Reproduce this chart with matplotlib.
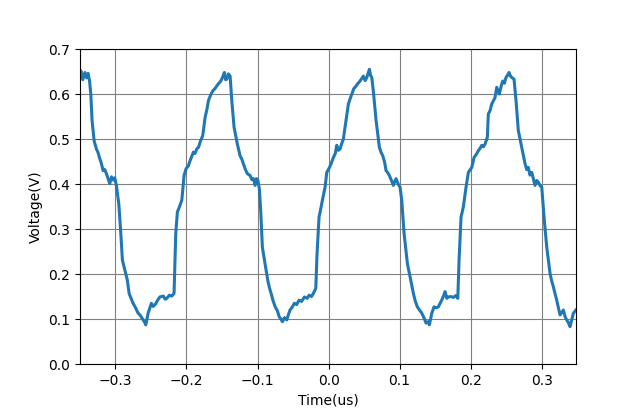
import numpy as np
import matplotlib
matplotlib.use('Agg')
import matplotlib.pyplot as plt

# time (us) and voltage (V)
t = [-0.3499, -0.3487, -0.3460, -0.3430, -0.3405, -0.3385, -0.3365, -0.3347, -0.3329,
     -0.3300, -0.3268, -0.3245, -0.3220, -0.3200, -0.3174, -0.3150, -0.3127, -0.3100,
     -0.3080, -0.3055, -0.3033, -0.3010, -0.2987, -0.2953, -0.2930, -0.2902, -0.2868,
     -0.2832, -0.2808, -0.2780, -0.2752, -0.2720, -0.2681, -0.2650, -0.2611, -0.2590,
     -0.2573, -0.2540, -0.2494, -0.2470, -0.2437, -0.2405, -0.2376, -0.2325, -0.2300,
     -0.2277, -0.2240, -0.2207, -0.2175, -0.2165, -0.2151, -0.2128, -0.2100, -0.2066,
     -0.2034, -0.2006, -0.1975, -0.1949, -0.1925, -0.1903, -0.1880, -0.1855, -0.1830,
     -0.1809, -0.1771, -0.1738, -0.1710, -0.1692, -0.1660, -0.1630, -0.1600, -0.1574,
     -0.1545, -0.1517, -0.1490, -0.1467, -0.1450, -0.1433, -0.1410, -0.1386, -0.1362,
     -0.1330, -0.1284, -0.1246, -0.1220, -0.1199, -0.1170, -0.1143, -0.1105, -0.1080,
     -0.1058, -0.1034, -0.1015, -0.0996, -0.0974, -0.0955, -0.0932, -0.0894, -0.0856,
     -0.0830, -0.0809, -0.0780, -0.0751, -0.0720, -0.0695, -0.0670, -0.0650, -0.0620,
     -0.0588, -0.0565, -0.0542, -0.0510, -0.0481, -0.0450, -0.0415, -0.0380, -0.0340,
     -0.0300, -0.0274, -0.0240, -0.0214, -0.0180, -0.0162, -0.0134, -0.0110, -0.0087,
     -0.0049, -0.0025, 0.0010, 0.0035, 0.0068, 0.0095, 0.0115, 0.0140, 0.0162, 0.0185,
     0.0208, 0.0246, 0.0279, 0.0300, 0.0327, 0.0355, 0.0387, 0.0415, 0.0443, 0.0465,
     0.0490, 0.0515, 0.0538, 0.0555, 0.0575, 0.0590, 0.0608, 0.0630, 0.0669, 0.0715,
     0.0740, 0.0763, 0.0790, 0.0809, 0.0830, 0.0856, 0.0885, 0.0912, 0.0930, 0.0950,
     0.0980, 0.1006, 0.1030, 0.1063, 0.1110, 0.1147, 0.1194, 0.1220, 0.1250, 0.1280,
     0.1312, 0.1345, 0.1372, 0.1400, 0.1419, 0.1453, 0.1485, 0.1515, 0.1545, 0.1570,
     0.1593, 0.1615, 0.1640, 0.1665, 0.1686, 0.1720, 0.1757, 0.1790, 0.1819, 0.1837,
     0.1865, 0.1897, 0.1935, 0.1968, 0.2016, 0.2048, 0.2080, 0.2108, 0.2135, 0.2156,
     0.2180, 0.2203, 0.2235, 0.2249, 0.2273, 0.2297, 0.2320, 0.2343, 0.2367, 0.2404,
     0.2430, 0.2452, 0.2475, 0.2498, 0.2520, 0.2540, 0.2560, 0.2578, 0.2611, 0.2639,
     0.2671, 0.2719, 0.2745, 0.2766, 0.2790, 0.2812, 0.2835, 0.2860, 0.2885, 0.2906,
     0.2930, 0.2953, 0.2980, 0.3001, 0.3033, 0.3071, 0.3118, 0.3140, 0.3164, 0.3190,
     0.3212, 0.3235, 0.3259, 0.3305, 0.3330, 0.3352, 0.3375, 0.3399, 0.3425, 0.3446,
     0.3483]
v = [0.640, 0.652, 0.632, 0.648, 0.636, 0.646, 0.630, 0.600, 0.541,
     0.496, 0.478, 0.470, 0.456, 0.447, 0.430, 0.432, 0.423, 0.410,
     0.401, 0.416, 0.409, 0.414, 0.397, 0.356, 0.304, 0.231, 0.209,
     0.186, 0.157, 0.146, 0.135, 0.126, 0.113, 0.108, 0.098, 0.093,
     0.087, 0.113, 0.135, 0.128, 0.133, 0.142, 0.149, 0.151, 0.144,
     0.146, 0.153, 0.151, 0.157, 0.216, 0.290, 0.338, 0.349, 0.364,
     0.419, 0.434, 0.440, 0.452, 0.462, 0.471, 0.468, 0.478, 0.482,
     0.493, 0.508, 0.548, 0.568, 0.585, 0.598, 0.607, 0.612, 0.618,
     0.624, 0.629, 0.638, 0.648, 0.632, 0.633, 0.645, 0.640, 0.585,
     0.526, 0.489, 0.463, 0.455, 0.445, 0.432, 0.423, 0.419, 0.410,
     0.412, 0.397, 0.412, 0.409, 0.389, 0.341, 0.260, 0.223, 0.186,
     0.168, 0.157, 0.140, 0.127, 0.118, 0.105, 0.100, 0.094, 0.103,
     0.098, 0.110, 0.120, 0.127, 0.135, 0.132, 0.142, 0.139, 0.149,
     0.146, 0.153, 0.150, 0.157, 0.168, 0.246, 0.327, 0.345, 0.364,
     0.393, 0.426, 0.436, 0.445, 0.459, 0.468, 0.486, 0.475, 0.478, 0.490,
     0.500, 0.541, 0.578, 0.588, 0.600, 0.612, 0.618, 0.624, 0.629, 0.634,
     0.640, 0.630, 0.637, 0.645, 0.655, 0.642, 0.637, 0.607, 0.541, 0.482,
     0.470, 0.463, 0.448, 0.430, 0.426, 0.419, 0.408, 0.397, 0.405, 0.412,
     0.400, 0.393, 0.364, 0.290, 0.223, 0.194, 0.157, 0.140, 0.127, 0.120,
     0.113, 0.102, 0.091, 0.094, 0.087, 0.113, 0.127, 0.125, 0.127, 0.135,
     0.142, 0.150, 0.161, 0.146, 0.149, 0.150, 0.148, 0.152, 0.146, 0.231,
     0.327, 0.349, 0.393, 0.426, 0.437, 0.459, 0.466, 0.474, 0.480, 0.486,
     0.483, 0.489, 0.504, 0.556, 0.563, 0.578, 0.585, 0.592, 0.615, 0.600,
     0.618, 0.629, 0.624, 0.637, 0.642, 0.648, 0.640, 0.637, 0.633, 0.585,
     0.519, 0.482, 0.462, 0.445, 0.432, 0.437, 0.420, 0.426, 0.410, 0.397,
     0.408, 0.404, 0.396, 0.393, 0.327, 0.260, 0.201, 0.185, 0.172, 0.155,
     0.142, 0.125, 0.109, 0.120, 0.105, 0.098, 0.092, 0.083, 0.100, 0.113,
     0.120]

fig = plt.figure(figsize=(6.4, 4.09), dpi=100)
ax = fig.add_subplot(111)
ax.plot(t, v, color='#1f77b4', lw=2.2)
ax.set_xlim(min(t), max(t))
ax.set_ylim(0, 0.7)
ax.grid(True, color='gray', lw=0.8)
ax.set_xlabel('Time(us)')
ax.set_ylabel('Voltage(V)')
fig.savefig('out.png', dpi=100)
